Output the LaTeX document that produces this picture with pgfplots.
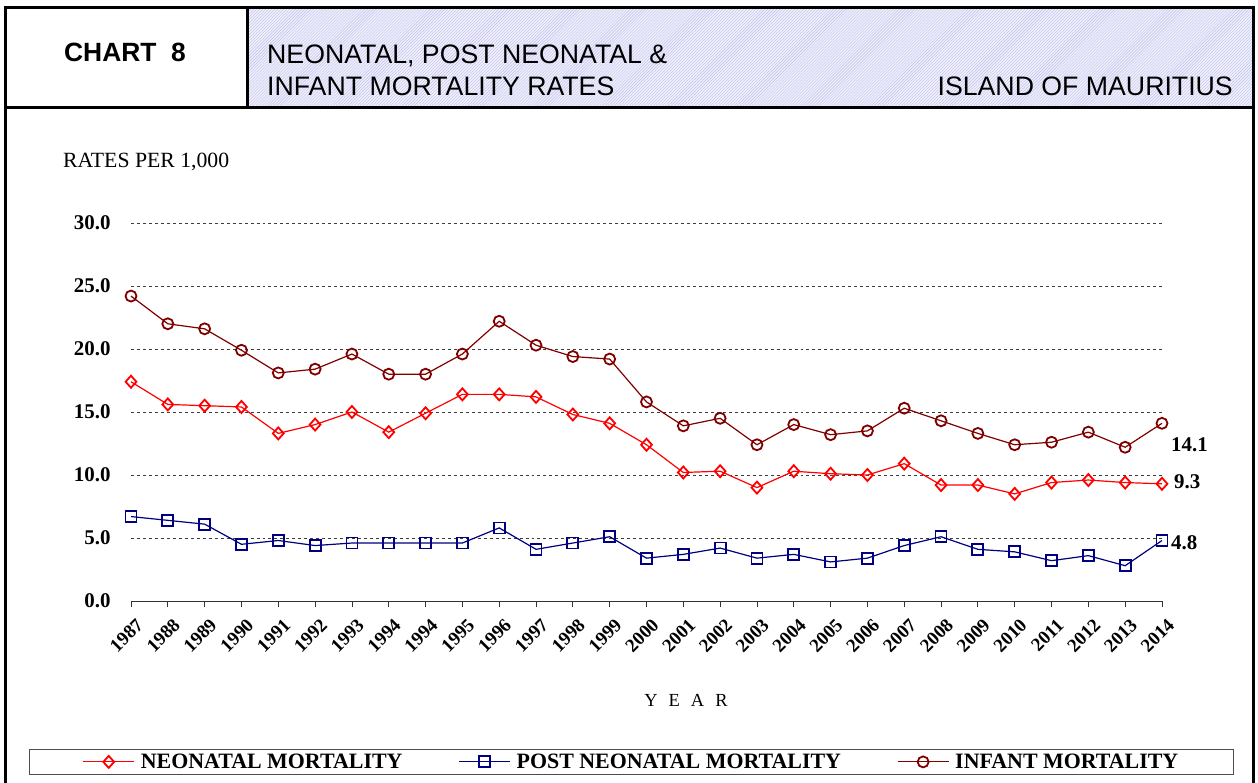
\documentclass[border=0pt]{standalone}
\usepackage{pgfplots}
\pgfplotsset{compat=1.18}
\usepackage{pgfplotstable}
\usepackage{fontspec}
\setmainfont{Liberation Serif}
\newfontfamily\arialfont{Liberation Sans}
\usetikzlibrary{patterns}
\definecolor{neo}{RGB}{255,0,0}
\definecolor{post}{RGB}{0,0,128}
\definecolor{inf}{RGB}{128,0,0}
\definecolor{hatchbg}{RGB}{240,240,252}
\definecolor{hatchln}{RGB}{190,190,236}
\definecolor{gridc}{RGB}{60,60,60}
\pgfplotsset{myleg/.style={legend image code/.code={\draw[mark repeat=2, mark phase=2, ##1, draw=#1, color=#1] plot coordinates {(0bp,0bp) (25.5bp,0bp) (51bp,0bp)};}}}

\pgfplotstableread{
x year neo post inf
0 1987 17.4 6.7 24.2
1 1988 15.6 6.4 22.0
2 1989 15.5 6.1 21.6
3 1990 15.4 4.5 19.9
4 1991 13.3 4.8 18.1
5 1992 14.0 4.4 18.4
6 1993 15.0 4.6 19.6
7 1994 13.4 4.6 18.0
8 1994 14.9 4.6 18.0
9 1995 16.4 4.6 19.6
10 1996 16.4 5.8 22.2
11 1997 16.2 4.1 20.3
12 1998 14.8 4.6 19.4
13 1999 14.1 5.1 19.2
14 2000 12.4 3.4 15.8
15 2001 10.2 3.7 13.9
16 2002 10.3 4.2 14.5
17 2003 9.0 3.4 12.4
18 2004 10.3 3.7 14.0
19 2005 10.1 3.1 13.2
20 2006 10.0 3.4 13.5
21 2007 10.9 4.4 15.3
22 2008 9.2 5.1 14.3
23 2009 9.2 4.1 13.3
24 2010 8.5 3.9 12.4
25 2011 9.4 3.2 12.6
26 2012 9.6 3.6 13.4
27 2013 9.4 2.8 12.2
28 2014 9.3 4.8 14.1
}\datatable

\begin{document}
\begin{tikzpicture}
\begin{scope}[x=1bp,y=1bp]
\path[use as bounding box] (0,0) rectangle (1258,783);
\fill[hatchbg] (247,675) rectangle (1253,775);
\fill[pattern=north east lines, pattern color=hatchln] (247,675) rectangle (1253,775);
\draw[line width=3bp] (5,0) -- (5,775) -- (1253,775) -- (1253,0);
\draw[line width=3bp] (5,675) -- (1253,675);
\draw[line width=3bp] (247,675) -- (247,775);
\node[anchor=base, inner sep=0, font=\arialfont\bfseries\fontsize{26.5}{30}\selectfont] at (125,721) {CHART\ \ 8};
\node[anchor=base west, inner sep=0, font=\arialfont\fontsize{26.8}{30}\selectfont] at (267,719) {NEONATAL, POST NEONATAL \&};
\node[anchor=base west, inner sep=0, font=\arialfont\fontsize{26.8}{30}\selectfont] at (267,687) {INFANT MORTALITY RATES};
\node[anchor=base east, inner sep=0, font=\arialfont\fontsize{26.8}{30}\selectfont] at (1233,687) {ISLAND OF MAURITIUS};
\node[anchor=base west, inner sep=0, font=\fontsize{21.8}{24}\selectfont] at (63,615) {RATES PER 1,000};
\node[anchor=base, inner sep=0, font=\fontsize{18.5}{22}\selectfont] at (686,76) {Y\hspace{11bp}E\hspace{11bp}A\hspace{11bp}R};
\end{scope}
\begin{axis}[
  at={(131bp,182bp)}, anchor=south west,
  scale only axis, width=1031bp, height=378bp,
  xmin=0, xmax=28, ymin=0, ymax=30,
  axis x line*=bottom, axis y line*=left,
  x axis line style={-, line width=0.8bp, draw=black!80},
  y axis line style={draw=none},
  xtick={0,...,28},
  xticklabels={1987,1988,1989,1990,1991,1992,1993,1994,1994,1995,1996,1997,1998,1999,2000,2001,2002,2003,2004,2005,2006,2007,2008,2009,2010,2011,2012,2013,2014},
  xtick align=outside, major tick length=6bp,
  x tick style={line width=0.8bp, draw=black!80},
  ytick={0,5,10,15,20,25,30},
  yticklabels={0.0,5.0,10.0,15.0,20.0,25.0,30.0},
  y tick style={draw=none},
  ymajorgrids, grid style={dashed, gridc, line width=0.8bp},
  xticklabel style={rotate=45, anchor=east, font=\bfseries\fontsize{19}{21}\selectfont, xshift=-1bp, yshift=-17bp},
  yticklabel style={anchor=east, font=\bfseries\fontsize{21}{24}\selectfont, xshift=-17bp},
  clip=false,
  legend columns=3,
  legend style={at={(-0.0989,-0.4603)}, anchor=south west, draw=black!70, line width=1.2bp,
    inner xsep=53bp, inner ysep=2.5bp, font=\bfseries\fontsize{22}{23}\selectfont,
    /tikz/every even column/.append style={column sep=54bp},
    /tikz/every odd column/.append style={column sep=4bp}},
]
\addplot[color=neo, draw=neo, line width=1.2bp, mark=diamond, mark size=6bp, mark options={draw=neo, fill=white, line width=1.8bp, solid, xscale=1.2}, myleg=neo]
  table[x=x, y=neo] {\datatable};
\addlegendentry{NEONATAL MORTALITY}
\addplot[color=post, draw=post, line width=1.2bp, mark=square, mark size=5.5bp, mark options={draw=post, fill=white, line width=1.8bp, solid}, myleg=post]
  table[x=x, y=post] {\datatable};
\addlegendentry{POST NEONATAL MORTALITY}
\addplot[color=inf, draw=inf, line width=1.2bp, mark=o, mark size=5.5bp, mark options={draw=inf, fill=white, line width=1.8bp, solid}, myleg=inf]
  table[x=x, y=inf] {\datatable};
\addlegendentry{INFANT MORTALITY}
\node[anchor=west, inner sep=0, font=\bfseries\fontsize{21}{24}\selectfont] at (axis cs:28,14.1) [xshift=9bp, yshift=-21bp] {14.1};
\node[anchor=west, inner sep=0, font=\bfseries\fontsize{21}{24}\selectfont] at (axis cs:28,9.3) [xshift=12bp, yshift=2bp] {9.3};
\node[anchor=west, inner sep=0, font=\bfseries\fontsize{21}{24}\selectfont] at (axis cs:28,4.8) [xshift=9bp, yshift=-2bp] {4.8};
\end{axis}
\end{tikzpicture}
\end{document}
